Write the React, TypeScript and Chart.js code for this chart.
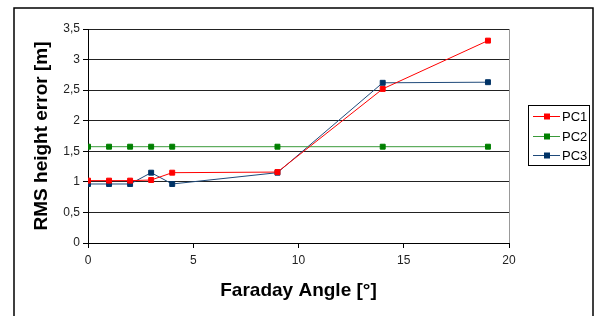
import React, { useEffect, useRef } from "react";
import { Chart, registerables } from "chart.js";

Chart.register(...registerables);

const angles = [0, 1, 2, 3, 4, 9, 14, 19];
const pc1 = [1.02, 1.02, 1.02, 1.03, 1.15, 1.16, 2.52, 3.31];
const pc2 = [1.575, 1.575, 1.575, 1.575, 1.575, 1.575, 1.575, 1.575];
const pc3 = [0.965, 0.965, 0.965, 1.15, 0.965, 1.15, 2.62, 2.63];
const seriesNames = ["PC1", "PC2", "PC3"];
const lineColors = ["#ff0000", "#3a9a3a", "#1f4a7a"];
const markerColors = ["#ff0000", "#008000", "#003366"];
const xTitle = "Faraday Angle [°]";
const yTitle = "RMS height error [m]";

const FONT = "'Liberation Sans', Arial, sans-serif";

const decorPlugin = {
  id: "decor",
  afterDraw(chart: any) {
    const { ctx, chartArea } = chart;
    ctx.save();
    // outer frame
    ctx.strokeStyle = "#000";
    ctx.lineWidth = 1.5;
    ctx.strokeRect(14, 8, 579, 320);
    // right plot border
    ctx.strokeStyle = "#999";
    ctx.lineWidth = 1;
    ctx.beginPath();
    ctx.moveTo(Math.round(chartArea.right) + 0.5, chartArea.top);
    ctx.lineTo(Math.round(chartArea.right) + 0.5, chartArea.bottom);
    ctx.stroke();
    // axis titles
    ctx.fillStyle = "#000";
    ctx.font = `bold 19px ${FONT}`;
    ctx.textAlign = "center";
    ctx.textBaseline = "middle";
    ctx.fillText(xTitle, (chartArea.left + chartArea.right) / 2, 291);
    ctx.save();
    ctx.translate(42, (chartArea.top + chartArea.bottom) / 2);
    ctx.rotate(-Math.PI / 2);
    ctx.fillText(yTitle, 0, 0);
    ctx.restore();
    // legend
    ctx.strokeStyle = "#000";
    ctx.lineWidth = 1;
    ctx.strokeRect(528.5, 105.5, 61, 60);
    ctx.font = `13px ${FONT}`;
    ctx.textAlign = "left";
    const rows = [116, 136, 155];
    seriesNames.forEach((name, i) => {
      const y = rows[i];
      ctx.strokeStyle = lineColors[i];
      ctx.lineWidth = 1;
      ctx.beginPath();
      ctx.moveTo(533, y + 0.5);
      ctx.lineTo(560, y + 0.5);
      ctx.stroke();
      ctx.fillStyle = markerColors[i];
      ctx.fillRect(544, y - 2.5, 6, 6);
      ctx.fillStyle = "#000";
      ctx.fillText(name, 562, y + 1);
    });
    ctx.restore();
  },
};

export default function App() {
  const ref = useRef<HTMLCanvasElement>(null);
  useEffect(() => {
    document.body.style.margin = "0";
    const series = [pc1, pc2, pc3];
    const chart = new Chart(ref.current!, {
      type: "line",
      data: {
        datasets: series.map((s, i) => ({
          label: seriesNames[i],
          data: angles.map((a, j) => ({ x: a, y: s[j] })),
          borderColor: lineColors[i],
          backgroundColor: markerColors[i],
          pointBackgroundColor: markerColors[i],
          pointBorderColor: markerColors[i],
          borderWidth: 1,
          pointStyle: "rect",
          pointRadius: 3.5,
          pointBorderWidth: 1,
          tension: 0,
        })),
      },
      options: {
        animation: false,
        responsive: false,
        layout: { padding: { left: 0, right: 92, top: 29, bottom: 0 } },
        plugins: { legend: { display: false }, tooltip: { enabled: false } },
        scales: {
          x: {
            type: "linear",
            min: 0,
            max: 20,
            ticks: {
              stepSize: 5,
              color: "#222",
              font: { family: FONT, size: 12 },
              padding: 5,
              maxRotation: 0,
            },
            grid: { drawOnChartArea: false, tickLength: 5, tickColor: "#000" },
            border: { color: "#000" },
            afterFit: (s: any) => {
              s.height = 73;
            },
          },
          y: {
            min: 0,
            max: 3.5,
            ticks: {
              stepSize: 0.5,
              color: "#222",
              font: { family: FONT, size: 12 },
              padding: 3,
              callback: (v: any) => String(v).replace(".", ","),
            },
            grid: { color: "#222", tickLength: 5, tickColor: "#000" },
            border: { color: "#000" },
            afterFit: (s: any) => {
              s.width = 88;
            },
          },
        },
      },
      plugins: [decorPlugin],
    });
    return () => chart.destroy();
  }, []);
  return (
    <div style={{ width: 601, height: 316, background: "#fff" }}>
      <canvas ref={ref} width={601} height={316} style={{ display: "block" }} />
    </div>
  );
}
